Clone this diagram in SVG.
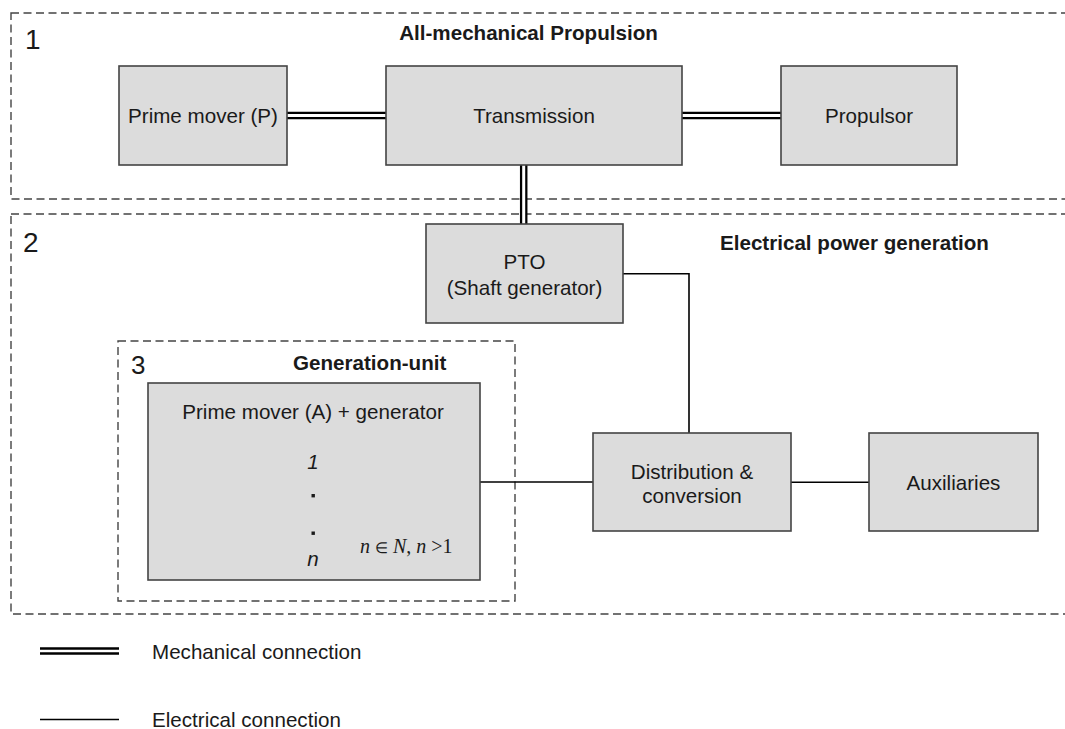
<svg xmlns="http://www.w3.org/2000/svg" width="1065" height="729" viewBox="0 0 1065 729">
<style>
  .region { fill: none; stroke: #444; stroke-width: 1.4; stroke-dasharray: 8 4.5; }
  .box { fill: #dcdcdc; stroke: #444; stroke-width: 1.6; }
  .t { font-family: "Liberation Sans", Arial, sans-serif; font-size: 20.6px; fill: #1a1a1a; }
  .c { text-anchor: middle; }
  .b { font-weight: bold; }
  .num { font-family: "Liberation Sans", Arial, sans-serif; font-size: 28px; fill: #1a1a1a; }
  .it { font-style: italic; }
  .serif { font-family: "Liberation Serif", "Times New Roman", serif; font-size: 20px; fill: #1a1a1a; }
  .mech { stroke: #000; stroke-width: 7.5; fill: none; }
  .mechgap { stroke: #fff; stroke-width: 3; fill: none; }
  .elec { stroke: #000; stroke-width: 1.6; fill: none; }
</style>
<rect width="1065" height="729" fill="#fff"/>

<g id="regions">
  <g id="region1">
    <rect class="region" x="11" y="13" width="1080" height="186"/>
    <text class="num" x="25" y="49">1</text>
    <text class="t b c" x="528.5" y="39.5">All-mechanical Propulsion</text>
  </g>
  <g id="region2">
    <rect class="region" x="11" y="214" width="1080" height="400"/>
    <text class="num" x="23" y="252">2</text>
    <text class="t b" x="720" y="250">Electrical power generation</text>
  </g>
  <g id="region3">
    <rect class="region" x="118" y="341" width="397" height="260"/>
    <text class="num" x="131" y="374" style="font-size:26px">3</text>
    <text class="t b" x="293" y="370">Generation-unit</text>
  </g>
</g>

<g id="connectors">
  <path class="mech" d="M287 115.5 H386 M682 115.5 H781 M523.7 165 V224"/>
  <path class="mechgap" d="M287 115.5 H386 M682 115.5 H781 M523.7 165 V224"/>
  <path class="elec" d="M623 273.7 H689 V433"/>
  <path class="elec" d="M480 482 H593"/>
  <path class="elec" d="M791 482.3 H869"/>
</g>

<g id="prime-mover-p">
  <rect class="box" x="119" y="66" width="168" height="99"/>
  <text class="t c" x="203" y="122.5">Prime mover (P)</text>
</g>
<g id="transmission">
  <rect class="box" x="386" y="66" width="296" height="99"/>
  <text class="t c" x="534" y="122.5">Transmission</text>
</g>
<g id="propulsor">
  <rect class="box" x="781" y="66" width="176" height="99"/>
  <text class="t c" x="869" y="122.5">Propulsor</text>
</g>
<g id="pto">
  <rect class="box" x="426" y="224" width="197" height="99"/>
  <text class="t c" x="524.5" y="269">PTO</text>
  <text class="t c" x="524.5" y="294.5">(Shaft generator)</text>
</g>
<g id="prime-mover-a">
  <rect class="box" x="148" y="383" width="332" height="197"/>
  <text class="t c" x="313" y="419">Prime mover (A) + generator</text>
  <text class="t c it" x="313" y="469">1</text>
  <rect x="311.5" y="494" width="3.4" height="3.4" fill="#1a1a1a"/>
  <rect x="311.5" y="531.5" width="3.4" height="3.4" fill="#1a1a1a"/>
  <text class="t c it" x="313" y="566">n</text>
  <text class="serif" x="360" y="553"><tspan class="it">n</tspan> <tspan style="font-size:15px">∈</tspan> <tspan class="it">N</tspan>, <tspan class="it">n</tspan> &gt;1</text>
</g>
<g id="distribution">
  <rect class="box" x="593" y="433" width="198" height="98"/>
  <text class="t c" x="692" y="479">Distribution &amp;</text>
  <text class="t c" x="692" y="502.5">conversion</text>
</g>
<g id="auxiliaries">
  <rect class="box" x="869" y="433" width="169" height="98"/>
  <text class="t c" x="953.5" y="490">Auxiliaries</text>
</g>

<g id="legend">
  <path class="mech" d="M40 651 H119"/>
  <path class="mechgap" d="M40 651 H119" style="stroke-width:2.5"/>
  <text class="t" x="152" y="659">Mechanical connection</text>
  <path class="elec" d="M40 719.5 H119"/>
  <text class="t" x="152" y="727">Electrical connection</text>
</g>
</svg>
